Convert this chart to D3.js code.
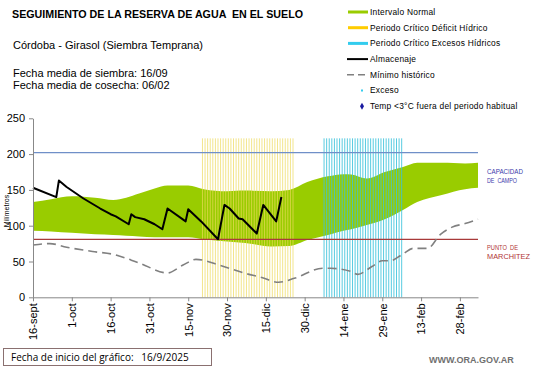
<!DOCTYPE html>
<html>
<head>
<meta charset="utf-8">
<script src="https://cdn.jsdelivr.net/npm/d3@7"></script>
<style>
  body { margin: 0; background: #fff; }
  svg { font-family: "Liberation Sans", Arial, sans-serif; }
  svg text { white-space: pre; }
</style>
</head>
<body>
<div class="canvas"></div>
<script>
// x en días desde el 16-sept
const tickDays = [0, 15, 30, 45, 60, 75, 90, 105, 120, 135, 150, 165];
const tickLabels = ["16-sept", "1-oct", "16-oct", "31-oct", "15-nov", "30-nov", "15-dic", "30-dic", "14-ene", "29-ene", "13-feb", "28-feb"];
const yTicks = [0, 50, 100, 150, 200, 250];

// intervalo normal (banda verde)
const bandDays = [0, 7, 15, 24, 31, 36, 41, 47, 52, 60, 66, 75, 82, 92, 99, 106, 114, 120, 123, 129, 136, 143, 148.5, 158, 167, 172];
const bandHigh = [133, 137, 141, 139, 136, 139, 145, 152, 156, 156, 151, 148, 149, 148, 150, 161, 169, 172, 171.5, 166, 175, 182, 188, 188, 187, 188];
const bandLow = [93, 92, 90, 88, 87, 86, 85, 84, 84, 84, 81, 78, 76, 71, 71.5, 80, 87, 93, 95, 101, 109, 122, 133, 143, 151, 153];

// almacenaje
const almDays = [0, 9, 10, 13, 19.5, 26, 30, 32, 37, 38, 39.5, 43, 47, 50, 52, 59, 60, 65, 71.5, 74, 76, 79.5, 81, 86.5, 89, 94, 96];
const almValues = [153, 140, 163, 154, 138, 124, 116, 113, 102, 116, 112, 109, 102, 95, 124, 106, 123, 106, 81, 129, 124, 110, 109, 89, 129, 106, 140];

// mínimo histórico
const minDays = [0, 6.5, 13, 23, 31, 41, 52, 58, 63, 72, 82, 88, 95, 101, 112, 115, 123, 125.5, 131, 135, 138, 143, 147, 152.5, 157.5, 162, 167, 172];
const minValues = [73, 75, 70, 64, 60, 48, 34, 45, 53, 45, 33.5, 28, 21, 26.5, 40.5, 40.5, 36, 32, 43, 51, 51, 60.5, 68.4, 68.4, 88, 98, 103, 109];

// periodos críticos [inicio, fin] en días
const deficitPeriod = [65.5, 100.5];
const excesoPeriod = [112.5, 142.5];

const capacidadCampo = 202;
const puntoMarchitez = 81;

const legendItems = [
  "Intervalo Normal",
  "Periodo Crítico Déficit Hídrico",
  "Periodo Crítico Excesos Hídricos",
  "Almacenaje",
  "Mínimo histórico",
  "Exceso",
  "Temp <3°C fuera del periodo habitual"
];

const W = 541, H = 368;
const svg = d3.select(".canvas").append("svg").attr("width", W).attr("height", H);

const x = d3.scaleLinear().domain([0, 172]).range([33, 478]);
const y = d3.scaleLinear().domain([0, 250]).range([297.3, 118.3]);

// textos de cabecera
svg.append("text").attr("x", 12).attr("y", 18).attr("font-size", 10.7).attr("font-weight", "bold")
  .text("SEGUIMIENTO DE LA RESERVA DE AGUA  EN EL SUELO");
svg.append("text").attr("x", 13).attr("y", 49).attr("font-size", 11)
  .text("Córdoba - Girasol (Siembra Temprana)");
svg.append("text").attr("x", 13).attr("y", 77).attr("font-size", 11)
  .text("Fecha media de siembra: 16/09");
svg.append("text").attr("x", 13).attr("y", 89).attr("font-size", 11)
  .text("Fecha media de cosecha: 06/02");

// banda verde
const band = bandDays.map((d, i) => ({ d, lo: bandLow[i], hi: bandHigh[i] }));
svg.append("path").datum(band)
  .attr("fill", "#99cc00")
  .attr("d", d3.area().x(p => x(p.d)).y0(p => y(p.lo)).y1(p => y(p.hi)).curve(d3.curveMonotoneX));

// rayas de periodos críticos
const stripes = (period, color, op) => {
  const days = d3.range(period[0], period[1] + 0.01, 1);
  svg.append("g").selectAll("line").data(days).join("line")
    .attr("x1", d => x(d)).attr("x2", d => x(d))
    .attr("y1", y(0)).attr("y2", y(222))
    .attr("stroke", color).attr("stroke-width", 1).attr("opacity", op);
};
stripes(deficitPeriod, "#eedb5c", 0.7);
stripes(excesoPeriod, "#3cc3dc", 0.85);

// líneas horizontales
svg.append("line").attr("x1", x(0)).attr("x2", x(172))
  .attr("y1", y(capacidadCampo)).attr("y2", y(capacidadCampo))
  .attr("stroke", "#6f8fc8").attr("stroke-width", 1.2);
svg.append("line").attr("x1", x(0)).attr("x2", x(172))
  .attr("y1", y(puntoMarchitez)).attr("y2", y(puntoMarchitez))
  .attr("stroke", "#a83a3a").attr("stroke-width", 1.2);

// mínimo histórico
svg.append("path").datum(minDays.map((d, i) => [d, minValues[i]]))
  .attr("fill", "none").attr("stroke", "#808080").attr("stroke-width", 1.6)
  .attr("stroke-dasharray", "9,5")
  .attr("d", d3.line().x(p => x(p[0])).y(p => y(p[1])).curve(d3.curveMonotoneX));

// almacenaje
svg.append("path").datum(almDays.map((d, i) => [d, almValues[i]]))
  .attr("fill", "none").attr("stroke", "#000").attr("stroke-width", 2)
  .attr("stroke-linejoin", "round")
  .attr("d", d3.line().x(p => x(p[0])).y(p => y(p[1])));

// ejes
const yAxis = svg.append("g").attr("transform", `translate(${x(0)},0)`)
  .call(d3.axisLeft(y).tickValues(yTicks).tickSize(4).tickSizeOuter(0).tickPadding(4));
yAxis.selectAll("text").attr("font-size", 11).attr("font-family", "Liberation Sans, Arial").attr("fill", "#000");
yAxis.selectAll("path, line").attr("stroke", "#888");

const xAxis = svg.append("g").attr("transform", `translate(0,${y(0)})`)
  .call(d3.axisBottom(x).tickValues(tickDays).tickFormat((d, i) => tickLabels[i]).tickSize(4).tickSizeOuter(0));
xAxis.selectAll("text")
  .attr("font-size", 11).attr("font-family", "Liberation Sans, Arial").attr("fill", "#000")
  .attr("transform", "rotate(-90)").attr("x", -6).attr("y", 0).attr("dy", "0.35em")
  .style("text-anchor", "end");
xAxis.selectAll("path, line").attr("stroke", "#888");

svg.append("text").attr("transform", "translate(9,211) rotate(-90)")
  .attr("text-anchor", "middle").attr("font-size", 7).text("Milímetros");

// etiquetas a la derecha
const rightLabel = (txt, yy, color, len) => svg.append("text")
  .attr("x", 487).attr("y", yy).attr("font-size", 7.5).attr("fill", color)
  .attr("textLength", len).attr("lengthAdjust", "spacingAndGlyphs").text(txt);
rightLabel("CAPACIDAD", 173.5, "#3b3bab", 36);
rightLabel("DE  CAMPO", 182.5, "#3b3bab", 30);
rightLabel("PUNTO  DE", 249.5, "#b03535", 31);
rightLabel("MARCHITEZ", 258.5, "#b03535", 43);

// leyenda
const lg = svg.append("g");
const ly = i => 12 + i * 15.7;
lg.append("rect").attr("x", 348).attr("y", ly(0) - 1.5).attr("width", 20).attr("height", 3).attr("fill", "#99cc00");
lg.append("rect").attr("x", 348).attr("y", ly(1) - 1.5).attr("width", 20).attr("height", 3).attr("fill", "#ffcc00");
lg.append("rect").attr("x", 348).attr("y", ly(2) - 1.5).attr("width", 20).attr("height", 3).attr("fill", "#33ccee");
lg.append("line").attr("x1", 347).attr("x2", 368).attr("y1", ly(3)).attr("y2", ly(3)).attr("stroke", "#000").attr("stroke-width", 2);
lg.append("line").attr("x1", 347).attr("x2", 368).attr("y1", ly(4)).attr("y2", ly(4)).attr("stroke", "#808080").attr("stroke-width", 1.5).attr("stroke-dasharray", "7,4");
lg.append("rect").attr("x", 361).attr("y", ly(5) - 1).attr("width", 2).attr("height", 2).attr("fill", "#33ccee");
lg.append("path").attr("transform", `translate(362,${ly(6)})`)
  .attr("d", d3.symbol(d3.symbolDiamond, 14)()).attr("fill", "#1a1aa0");
lg.selectAll("text").data(legendItems).join("text")
  .attr("x", 370)
  .attr("y", (d, i) => ly(i)).attr("dy", "0.35em")
  .attr("font-size", 8.4).attr("letter-spacing", 0.25).attr("fill", "#000").text(d => d);

// pie
svg.append("rect").attr("x", 3.5).attr("y", 348.5).attr("width", 208).attr("height", 17)
  .attr("fill", "none").attr("stroke", "#8a7070").attr("stroke-width", 1);
svg.append("text").attr("x", 11).attr("y", 361).attr("font-size", 10).attr("font-family", "Open Sans, sans-serif")
  .text("Fecha de inicio del gráfico:   16/9/2025");
svg.append("text").attr("x", 429).attr("y", 363).attr("font-size", 9).attr("font-weight", "bold").attr("fill", "#707070")
  .text("WWW.ORA.GOV.AR");
</script>
</body>
</html>
